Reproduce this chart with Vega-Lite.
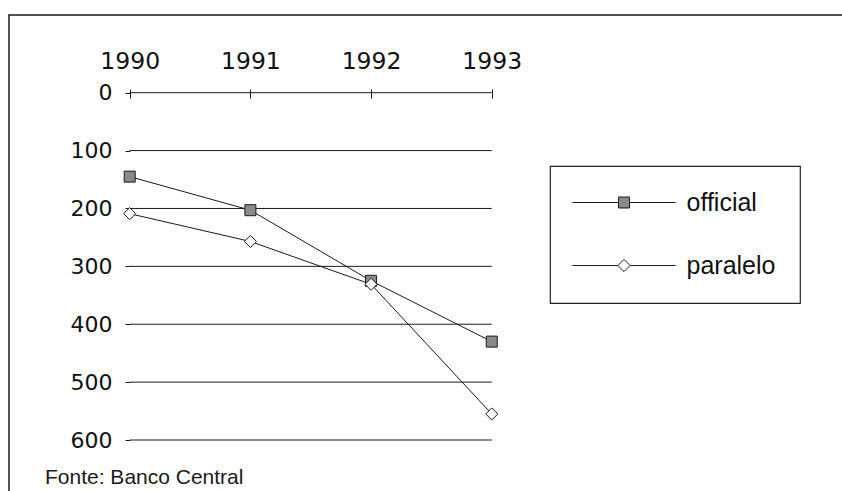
{
  "$schema": "https://vega.github.io/schema/vega-lite/v6.json",
  "width": 840,
  "height": 480,
  "autosize": {"type": "none"},
  "padding": {"left": 9, "top": 15, "right": 0, "bottom": 0},
  "background": "white",
  "title": {
    "text": "Fonte: Banco Central",
    "orient": "bottom",
    "anchor": "start",
    "frame": "group",
    "offset": -28,
    "dx": 36,
    "font": "Liberation Sans",
    "fontSize": 21,
    "fontWeight": "normal",
    "color": "#1a1a1a"
  },
  "config": {
    "view": {"stroke": "#1a1a1a", "strokeWidth": 1.5},
    "legend": {
      "strokeWidth": 1.2,
      "orient": "none",
      "legendX": 541,
      "legendY": 151,
      "padding": 24,
      "strokeColor": "#222",
      "fillColor": "white",
      "labelFont": "Liberation Sans",
      "labelFontSize": 25,
      "labelColor": "#111",
      "symbolSize": 121,
      "symbolOffset": 37.5,
      "labelOffset": 50,
      "rowPadding": 37,
      "symbolOpacity": 1,
      "symbolStrokeWidth": 1
    }
  },
  "datasets": {
    "grid": [{"v": 0}, {"v": 100}, {"v": 200}, {"v": 300}, {"v": 400}, {"v": 500}, {"v": 600}],
    "rates": [
      {"year": 1990, "serie": "official", "valor": 145},
      {"year": 1991, "serie": "official", "valor": 203},
      {"year": 1992, "serie": "official", "valor": 325},
      {"year": 1993, "serie": "official", "valor": 430},
      {"year": 1990, "serie": "paralelo", "valor": 209},
      {"year": 1991, "serie": "paralelo", "valor": 257},
      {"year": 1992, "serie": "paralelo", "valor": 331},
      {"year": 1993, "serie": "paralelo", "valor": 555}
    ]
  },
  "layer": [
    {
      "data": {"name": "grid"},
      "mark": {"type": "rule", "stroke": "#1a1a1a", "strokeWidth": 1},
      "encoding": {
        "y": {
          "field": "v",
          "type": "quantitative",
          "scale": {"domain": [-134.2, 695], "reverse": true, "nice": false, "zero": false},
          "axis": {
            "orient": "left",
            "offset": -121,
            "values": [0, 100, 200, 300, 400, 500, 600],
            "domain": false,
            "grid": false,
            "ticks": true,
            "tickSize": 5,
            "tickColor": "#1a1a1a",
            "labelPadding": 13,
            "labelFont": "DejaVu Sans",
            "labelFontSize": 22,
            "labelColor": "#111",
            "title": null
          }
        },
        "x": {
          "datum": 1990,
          "type": "quantitative",
          "scale": {"domain": [1989, 1995.96], "nice": false, "zero": false},
          "axis": {
            "orient": "top",
            "offset": -83,
            "values": [1990, 1991, 1992, 1993],
            "format": "d",
            "domain": false,
            "grid": false,
            "ticks": true,
            "tickSize": 9,
            "tickColor": "#1a1a1a",
            "labelPadding": 16,
            "labelFont": "DejaVu Sans",
            "labelFontSize": 23.5,
            "labelColor": "#111",
            "title": null
          }
        },
        "x2": {"datum": 1993}
      }
    },
    {
      "mark": {"type": "rule", "stroke": "#1a1a1a", "strokeWidth": 1.2},
      "encoding": {
        "x": {"datum": 1990, "type": "quantitative"},
        "y": {"datum": 0, "type": "quantitative"},
        "y2": {"datum": 600}
      }
    },
    {
      "data": {"name": "rates"},
      "mark": {"type": "line", "stroke": "#1a1a1a", "strokeWidth": 1},
      "encoding": {
        "x": {"field": "year", "type": "quantitative"},
        "y": {"field": "valor", "type": "quantitative"},
        "detail": {"field": "serie", "type": "nominal"}
      }
    },
    {
      "data": {"name": "rates"},
      "transform": [{"filter": "datum.serie === 'official'"}],
      "mark": {"type": "point", "shape": "M-1,-1H1V1H-1Z", "filled": true, "fill": "#8a8a8a", "stroke": "#1a1a1a", "strokeWidth": 1, "opacity": 1, "size": 121},
      "encoding": {
        "x": {"field": "year", "type": "quantitative"},
        "y": {"field": "valor", "type": "quantitative"}
      }
    },
    {
      "data": {"name": "rates"},
      "transform": [{"filter": "datum.serie === 'paralelo'"}],
      "mark": {"type": "point", "shape": "M0,-1.1L1.1,0L0,1.1L-1.1,0Z", "filled": true, "fill": "#ffffff", "stroke": "#1a1a1a", "strokeWidth": 1, "opacity": 1, "size": 121},
      "encoding": {
        "x": {"field": "year", "type": "quantitative"},
        "y": {"field": "valor", "type": "quantitative"}
      }
    },
    {
      "data": {"name": "rates"},
      "mark": {"type": "point", "filled": true, "opacity": 0},
      "encoding": {
        "x": {"field": "year", "type": "quantitative"},
        "y": {"field": "valor", "type": "quantitative"},
        "shape": {
          "field": "serie",
          "type": "nominal",
          "scale": {
            "domain": ["official", "paralelo"],
            "range": ["M-9.4,0H-1M1,0H9.4M-1,-1H1V1H-1Z", "M-9.4,0H-1.1M1.1,0H9.4M0,-1.1L1.1,0L0,1.1L-1.1,0Z"]
          },
          "legend": {"title": null}
        },
        "fill": {
          "field": "serie",
          "type": "nominal",
          "scale": {"domain": ["official", "paralelo"], "range": ["#8a8a8a", "#ffffff"]},
          "legend": {"title": null}
        },
        "stroke": {
          "field": "serie",
          "type": "nominal",
          "scale": {"domain": ["official", "paralelo"], "range": ["#1a1a1a", "#1a1a1a"]},
          "legend": {"title": null}
        }
      }
    }
  ]
}
